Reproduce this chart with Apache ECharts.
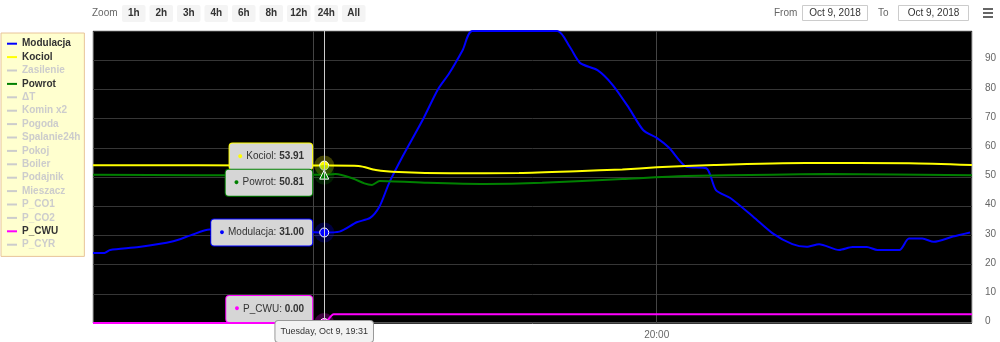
<!DOCTYPE html>
<html>
<head>
<meta charset="utf-8">
<script src="https://cdn.jsdelivr.net/npm/echarts@6/dist/echarts.min.js"></script>
<style>
html,body{margin:0;padding:0;background:#fff;}
#c{width:1000px;height:342px;}
</style>
</head>
<body>
<div id="c"></div>
<script>
// ---------- data ----------
const legendNames = ['Modulacja','Kociol','Zasilenie','Powrot','\u0394T','Komin x2','Pogoda','Spalanie24h','Pokoj','Boiler','Podajnik','Mieszacz','P_CO1','P_CO2','P_CWU','P_CYR'];
const activeNames = ['Modulacja','Kociol','Powrot','P_CWU'];

const modTimes = ['19:10:50','19:11:50','19:12:20','19:14:50','19:17:50','19:19:20','19:21:00','19:25:00','19:28:00','19:31:00','19:32:20','19:33:50','19:35:00','19:35:50','19:36:40','19:37:50','19:39:35','19:40:55','19:41:55','19:43:05','19:43:55','19:51:20','19:52:25','19:53:20','19:54:50','19:56:10','19:57:35','19:58:50','20:00:00','20:01:05','20:02:35','20:04:20','20:05:10','20:06:25','20:08:25','20:10:05','20:11:50','20:13:05','20:14:10','20:15:55','20:17:05','20:18:20','20:19:15','20:21:10','20:22:00','20:23:10','20:24:10','20:25:50','20:27:20'];
const modValues = [24,24,25,26,28,30,32,32,31.5,31,31.3,34.5,36,40,48,57,69.5,80,85.6,93.5,100,100,94.6,89,86.6,81.5,73.6,66,63.4,60,53.5,53,45.5,42.8,36.4,30.8,27,26.1,27,25,26,26,25,25,28.9,28.9,27.8,29.6,31];

const kocTimes = ['19:10:50','19:20:00','19:31:00','19:34:00','19:35:30','19:37:30','19:42:00','19:48:00','19:53:00','19:57:00','20:00:00','20:05:00','20:13:00','20:22:00','20:27:30'];
const kocValues = [54.0,54.0,53.91,53.8,52.4,51.7,51.3,51.4,52.0,52.6,53.3,54.1,54.8,54.7,54.1];

const powTimes = ['19:10:50','19:20:00','19:29:00','19:31:00','19:32:00','19:33:30','19:34:30','19:35:10','19:35:50','19:40:00','19:45:00','19:50:00','19:57:00','20:02:30','20:10:00','20:15:00','20:27:30'];
const powValues = [50.8,50.6,50.7,50.81,51.0,49.5,47.8,47.3,48.6,48.0,47.6,48.0,49.3,50.3,50.8,51.0,50.6];

const cwuTimes = ['19:10:50','19:31:00','19:31:50','20:27:30'];
const cwuValues = [0,0,3,3];

const xTickTimes = ['19:30:00','20:00:00'];
const crossTime = '19:31:00';
const crossLabel = 'Tuesday, Oct 9, 19:31';
const axisMinTime = '19:10:50';
const axisMaxTime = '20:27:30';

const zoomLabel = 'Zoom';
const zoomButtons = ['1h','2h','3h','4h','6h','8h','12h','24h','All'];
const fromLabel = 'From', toLabel = 'To';
const fromDate = 'Oct 9, 2018', toDate = 'Oct 9, 2018';

// ---------- helpers ----------
function ts(s){ const p = s.split(':').map(Number); return Date.UTC(2018, 9, 9, p[0], p[1], p[2]||0); }
function pairs(times, vals){ return times.map((t,i)=>[ts(t), vals[i]]); }
function valAt(times, vals, t){ return vals[times.indexOf(t)]; }

const FONT = 'Liberation Sans, Arial, sans-serif';
const colors = {Modulacja:'#0000ff', Kociol:'#ffff00', Powrot:'#008000', P_CWU:'#ff00ff'};
const dataMap = {
  Modulacja: {times: modTimes, vals: modValues},
  Kociol: {times: kocTimes, vals: kocValues},
  Powrot: {times: powTimes, vals: powValues},
  P_CWU: {times: cwuTimes, vals: cwuValues}
};
const tipCfg = {
  Modulacja: {symbol:'circle', dy:0},
  Kociol: {symbol:'circle', dy:-9},
  Powrot: {symbol:'triangle', dy:8},
  P_CWU: {symbol:'circle', dy:-14}
};

function markFor(name){
  const d = dataMap[name], c = colors[name], cfg = tipCfg[name];
  const v = valAt(d.times, d.vals, crossTime);
  const coord = [ts(crossTime), v];
  return {
    silent: true,
    animation: false,
    z: 10,
    data: [
      {coord, symbol:'circle', symbolSize: 20, itemStyle:{color:c, opacity:0.25}, label:{show:false}},
      {coord, symbol:cfg.symbol, symbolSize: 9, itemStyle:{color:c, borderColor:'#fff', borderWidth:1}, label:{show:false}},
      {coord, symbol:'circle', symbolSize: 0.1, itemStyle:{color:'transparent'},
        label:{
          show:true, position:'left', distance:12, offset:[0, cfg.dy],
          formatter: '{d|\u25CF} {n|' + name + ': }{v|' + v.toFixed(2) + '}',
          backgroundColor:'#d6d6d6', borderColor:c, borderWidth:1, borderRadius:3,
          padding:[7,8,7,8],
          rich:{
            d:{color:c, fontSize:9, fontFamily:FONT},
            n:{color:'#333', fontSize:10, fontFamily:FONT},
            v:{color:'#333', fontSize:10, fontWeight:'bold', fontFamily:FONT}
          }
        }}
    ]
  };
}

const series = legendNames.map(name => {
  const active = activeNames.includes(name);
  const s = {
    name, type:'line', showSymbol:false, symbol:'none',
    smooth: 0.25, animation:false,
    lineStyle:{width:2, color: colors[name] || '#ccc'},
    itemStyle:{color: colors[name] || '#ccc'},
    data: active ? pairs(dataMap[name].times, dataMap[name].vals) : []
  };
  if (active) s.markPoint = markFor(name);
  return s;
});

const selected = {};
legendNames.forEach(n => selected[n] = activeNames.includes(n));

// ---------- toolbar graphics ----------
const graphic = [];
graphic.push({type:'text', x:92, y:13, style:{text:zoomLabel, fill:'#666', font:'10px '+FONT, textVerticalAlign:'middle'}});
zoomButtons.forEach((b,i)=>{
  const x = 122 + i*27.5;
  graphic.push({type:'rect', shape:{x:x, y:5, width:23.5, height:17, r:2}, style:{fill:'#f4f4f4'}});
  graphic.push({type:'text', x:x+11.75, y:13.5, style:{text:b, fill:'#333', font:'bold 10px '+FONT, textAlign:'center', textVerticalAlign:'middle'}});
});
graphic.push({type:'text', x:774, y:13, style:{text:fromLabel, fill:'#666', font:'10px '+FONT, textVerticalAlign:'middle'}});
graphic.push({type:'rect', shape:{x:802.5, y:5.5, width:65, height:15}, style:{fill:'#fff', stroke:'#ccc', lineWidth:1}});
graphic.push({type:'text', x:835, y:13, style:{text:fromDate, fill:'#333', font:'10px '+FONT, textAlign:'center', textVerticalAlign:'middle'}});
graphic.push({type:'text', x:878, y:13, style:{text:toLabel, fill:'#666', font:'10px '+FONT, textVerticalAlign:'middle'}});
graphic.push({type:'rect', shape:{x:898.5, y:5.5, width:70, height:15}, style:{fill:'#fff', stroke:'#ccc', lineWidth:1}});
graphic.push({type:'text', x:933.5, y:13, style:{text:toDate, fill:'#333', font:'10px '+FONT, textAlign:'center', textVerticalAlign:'middle'}});
[9,13,17].forEach(y=>{
  graphic.push({type:'rect', shape:{x:983, y:y-1, width:10, height:2}, style:{fill:'#666'}});
});

const xTicks = xTickTimes.map(ts);

const chart = echarts.init(document.getElementById('c'));
chart.setOption({
  animation:false,
  useUTC:true,
  backgroundColor:'#fff',
  textStyle:{fontFamily:FONT},
  grid:{left:93, right:28, top:31, bottom:19, show:true, backgroundColor:'#000', borderColor:'#aaa', borderWidth:1},
  legend:{
    orient:'vertical', left:1, top:33,
    data: legendNames, selected,
    icon:'rect', itemWidth:10, itemHeight:2, itemGap:0,
    padding:[4,4,5,6],
    backgroundColor:'#ffffcf', borderColor:'#e8c49a', borderWidth:1,
    inactiveColor:'#ccc',
    textStyle:{fontSize:10, fontWeight:'bold', color:'#333', lineHeight:13.4, fontFamily:FONT},
    selectedMode:false
  },
  xAxis:{
    type:'time', min: ts(axisMinTime), max: ts(axisMaxTime),
    axisLine:{show:false},
    axisTick:{show:false, customValues: xTicks},
    splitLine:{show:true, lineStyle:{color:'#444', width:1}},
    axisLabel:{customValues: xTicks, formatter:'{HH}:{mm}', color:'#666', fontSize:10, margin:7, fontFamily:FONT},
    axisPointer:{
      show:true, status:'show', value: ts(crossTime), snap:false, triggerTooltip:false,
      lineStyle:{color:'#ccc', width:1, type:'solid'},
      label:{show:true, formatter: () => crossLabel, backgroundColor:'#f2f2f2', borderColor:'#999', borderWidth:1,
        color:'#333', fontSize:9, padding:[6,5,6,5], margin:0, fontFamily:FONT}
    }
  },
  yAxis:{
    type:'value', position:'right', min:0, max:100, interval:10,
    axisLine:{show:false}, axisTick:{show:false},
    splitLine:{show:true, lineStyle:{color:'#363636', width:1}},
    axisLabel:{color:'#666', fontSize:10, margin:13, showMaxLabel:false, verticalAlign:'bottom', lineHeight:3, fontFamily:FONT}
  },
  graphic,
  series
});
</script>
</body>
</html>
